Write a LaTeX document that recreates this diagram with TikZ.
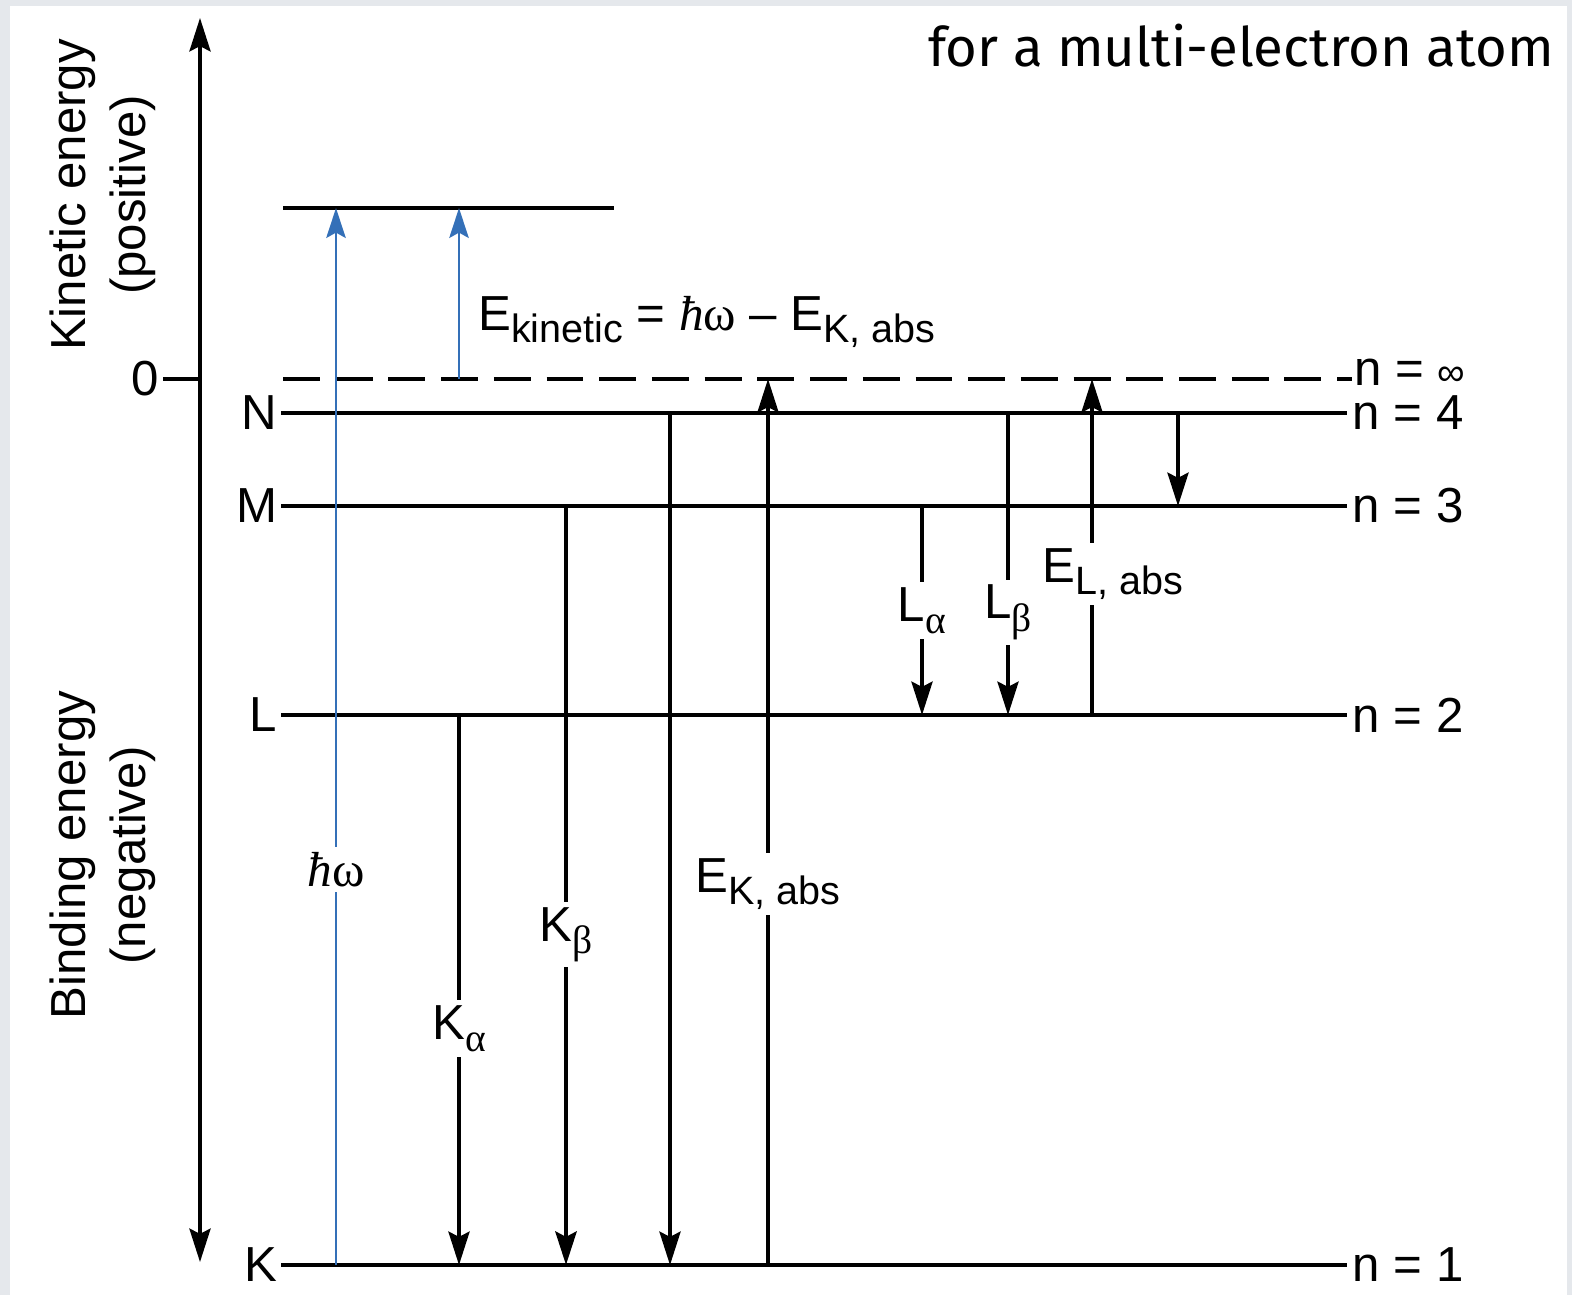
\RequirePackage{fix-cm}
\documentclass[tikz,border=0pt]{standalone}
\usepackage{fontspec}
\setmainfont{Liberation Sans}
\newfontfamily\titlefont{Fira Sans}
\newfontfamily\greekfont{Liberation Serif}
\usetikzlibrary{arrows.meta, calc}

\definecolor{bggray}{RGB}{229,232,236}
\definecolor{photonblue}{RGB}{52,112,184}
\newcommand\biglabel{\fontsize{28}{34}\selectfont}
\newcommand\lsub[1]{\raisebox{-7pt}{\fontsize{22.5}{24}\selectfont #1}}
\newcommand\hw{{\greekfont\itshape ħ\upshape ω}}
\newcommand\gr[1]{{\greekfont #1}}

\begin{document}
\begin{tikzpicture}[
    x=0.02cm, y=-0.02cm,
    level/.style={line width=2.1pt},
    lvl/.style={anchor=east, inner sep=2pt, font=\biglabel},
    nlab/.style={anchor=west, inner sep=3pt, font=\biglabel},
    arr/.style={-{Stealth[length=19pt, width=12pt, inset=3pt]}, line width=2.1pt},
    photon/.style={-{Stealth[length=17pt, width=11pt, inset=3pt]},
                   line width=1.6pt, draw=photonblue},
    lab/.style={fill=white, inner sep=3pt, font=\biglabel},
    side/.style={rotate=90, align=center, font=\biglabel}
]
    % frame
    \fill[bggray] (0,0) rectangle (1572,1295);
    \fill[white] (10,6) rectangle (1567,1295);

    \node[anchor=base east, font=\titlefont\fontsize{31}{32}\selectfont] (title)
      at (1560,66) {for a multi-electron atom};

    % energy axis
    \coordinate (axtop) at (200,18);
    \coordinate (axbot) at (200,1262);
    \draw[level, {Stealth[length=19pt, width=12pt, inset=3pt]}-{Stealth[length=19pt, width=12pt, inset=3pt]}]
      (axbot) -- (axtop);
    \node[side] (kinlab) at (103,195) {Kinetic energy\\(positive)};
    \node[side] (bindlab) at (103,855) {Binding energy\\(negative)};
    \node[lvl] (zero) at (163,379) {0};
    \draw[level] (zero) -- (zero -| axtop);

    % levels
    \coordinate (ekl) at (283,208);
    \coordinate (ekr) at (614,208);
    \coordinate (inf) at (283,379);
    \node[nlab, inner sep=1pt] (ninf) at (1352,372) {n = {\fontsize{22}{22}\selectfont ∞}};
    \node[lvl] (N) at (281,413) {N};
    \node[nlab] (n4) at (1347,413) {n = 4};
    \node[lvl] (M) at (281,506) {M};
    \node[nlab] (n3) at (1347,506) {n = 3};
    \node[lvl] (L) at (281,715) {L};
    \node[nlab] (n2) at (1347,715) {n = 2};
    \node[lvl] (K) at (281,1265) {K};
    \node[nlab] (n1) at (1347,1265) {n = 1};

    \draw[level] (ekl) -- (ekr);
    \draw[level, line width=1.9pt, dash pattern=on 21pt off 9pt] (inf) -- (inf -| ninf.west);
    \draw[level] (N) -- (n4);
    \draw[level] (M) -- (n3);
    \draw[level] (L) -- (n2);
    \draw[level] (K) -- (n1);

    % photon and photoelectron
    \draw[photon] (336,0 |- K) -- (336,0 |- ekl)
      node[lab, pos=.374] {\hw};
    \draw[photon] (459,0 |- inf) -- (459,0 |- ekl);
    \node[anchor=base west, font=\biglabel] (ekin) at (472,330)
      {E\lsub{kinetic} = \hw{} -- E\lsub{K, abs}};

    % K lines
    \draw[arr] (459,0 |- L) -- (459,0 |- K)
      node[lab, pos=.57] {K\lsub{\gr{α}}};
    \draw[arr, line width=2.8pt] (566,0 |- M) -- (566,0 |- K)
      node[lab, pos=.565] {K\lsub{\gr{β}}};
    \draw[arr] (670,0 |- N) -- (670,0 |- K);
    \draw[arr] (768,0 |- K) -- (768,0 |- inf)
      node[lab, pos=.43] {E\lsub{K, abs}};

    % L lines
    \draw[arr] (922,0 |- M) -- (922,0 |- L)
      node[lab, pos=.5] {L\lsub{\gr{α}}};
    \draw[arr] (1008,0 |- N) -- (1008,0 |- L)
      node[lab, pos=.66] {L\lsub{\gr{β}}};
    \draw[arr] (1092,0 |- L) -- (1092,0 |- inf);
    \node[lab] (elabs) at (1113,574) {E\lsub{L, abs}};
    \draw[arr] (1178,0 |- N) -- (1178,0 |- M);
\end{tikzpicture}
\end{document}
